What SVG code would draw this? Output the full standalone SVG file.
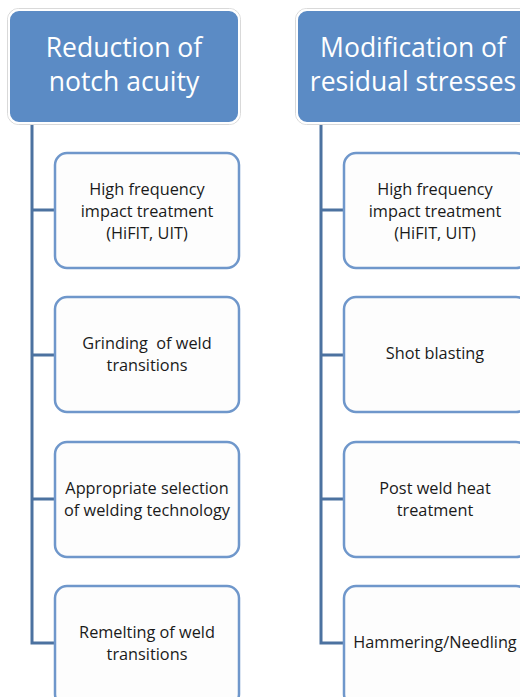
<svg xmlns="http://www.w3.org/2000/svg" width="520" height="697" viewBox="0 0 520 697">
<style>
.hdr{fill:#5b8bc5;stroke:#ffffff;stroke-width:2}
.hdrO{fill:none;stroke:#d9d9d9;stroke-width:1}
.box{fill:#fdfdfd;stroke:#6f97cb;stroke-width:2.5}
.ht{font-family:"Open Sans","Liberation Sans",Arial,sans-serif;font-size:26.5px;fill:#ffffff;text-anchor:middle}
.bt{font-family:"Open Sans","Liberation Sans",Arial,sans-serif;font-size:16.3px;fill:#1a1a1a;text-anchor:middle;white-space:pre}
.con{fill:none;stroke:#4c72a0;stroke-width:3}
</style>
<rect width="520" height="697" fill="#ffffff"/>
<g id="connectors">
<path class="con" d="M32,123 V643 H55 M32,210 H55 M32,355 H55 M32,499 H55"/>
<path class="con" d="M321,123 V643 H344 M321,210 H344 M321,355 H344 M321,499 H344"/>
</g>
<g id="h1">
<rect class="hdrO" x="7.5" y="8.5" width="233" height="116" rx="11"/>
<rect class="hdr" x="9" y="10" width="230" height="113" rx="10"/>
<text class="ht" x="124" y="57">Reduction of</text>
<text class="ht" x="124" y="91">notch acuity</text>
</g>
<g id="h2">
<rect class="hdrO" x="295.5" y="8.5" width="240" height="116" rx="11"/>
<rect class="hdr" x="297" y="10" width="237" height="113" rx="10"/>
<text class="ht" x="413" y="57">Modification of</text>
<text class="ht" x="413" y="91">residual stresses</text>
</g>
<g id="n1">
<rect class="box" x="55" y="153" width="184" height="115" rx="12"/>
<text class="bt" x="147" y="195">High frequency</text>
<text class="bt" x="147" y="217">impact treatment</text>
<text class="bt" x="147" y="239">(HiFIT, UIT)</text>
</g>
<g id="n2">
<rect class="box" x="55" y="297" width="184" height="115" rx="12"/>
<text class="bt" x="147" y="349" xml:space="preserve">Grinding  of weld</text>
<text class="bt" x="147" y="371">transitions</text>
</g>
<g id="n3">
<rect class="box" x="55" y="442" width="184" height="115" rx="12"/>
<text class="bt" x="147" y="494">Appropriate selection</text>
<text class="bt" x="147" y="516">of welding technology</text>
</g>
<g id="n4">
<rect class="box" x="55" y="586" width="184" height="120" rx="12"/>
<text class="bt" x="147" y="638">Remelting of weld</text>
<text class="bt" x="147" y="660">transitions</text>
</g>
<g id="n5">
<rect class="box" x="344" y="153" width="184" height="115" rx="12"/>
<text class="bt" x="435" y="195">High frequency</text>
<text class="bt" x="435" y="217">impact treatment</text>
<text class="bt" x="435" y="239">(HiFIT, UIT)</text>
</g>
<g id="n6">
<rect class="box" x="344" y="297" width="184" height="115" rx="12"/>
<text class="bt" x="435" y="359">Shot blasting</text>
</g>
<g id="n7">
<rect class="box" x="344" y="442" width="184" height="115" rx="12"/>
<text class="bt" x="435" y="494">Post weld heat</text>
<text class="bt" x="435" y="516">treatment</text>
</g>
<g id="n8">
<rect class="box" x="344" y="586" width="184" height="120" rx="12"/>
<text class="bt" x="435" y="648">Hammering/Needling</text>
</g>
</svg>
